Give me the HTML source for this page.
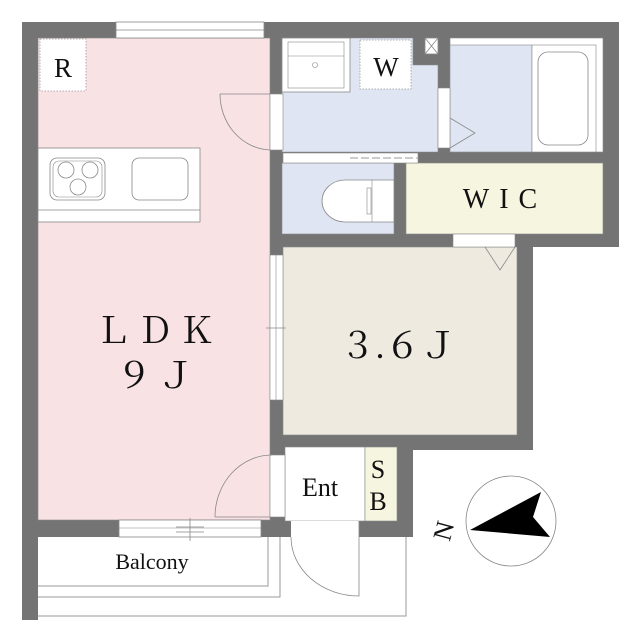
<!DOCTYPE html>
<html><head><meta charset="utf-8"><style>
html,body{margin:0;padding:0;background:#fff;}
svg{display:block;}
text{font-family:"Liberation Serif","Noto Serif CJK SC",serif;fill:#111;}
</style></head><body>
<svg width="632" height="640" viewBox="0 0 632 640" xmlns="http://www.w3.org/2000/svg">
<path d="M22 22 H619 V247 H533 V450 H413 V537 H22 Z" fill="#747474"/>
<rect x="22" y="537" width="16" height="83" fill="#747474"/>
<rect x="38" y="38" width="232" height="482" fill="#f9e2e4" stroke="#888" stroke-width="0.6"/>
<path d="M282 38 H413 V65 H438 V152 H282 Z" fill="#dfe5f2" stroke="#888" stroke-width="0.6"/>
<rect x="450" y="38" width="153" height="114" fill="#fff" stroke="#888" stroke-width="0.6"/>
<rect x="450" y="45" width="82" height="107" fill="#dfe5f2" stroke="#888" stroke-width="0.6"/>
<rect x="532" y="45" width="64" height="107" fill="#fff" stroke="#888" stroke-width="0.6"/>
<rect x="538" y="52" width="50" height="93" rx="10" fill="#fff" stroke="#888" stroke-width="0.8"/>
<rect x="282" y="163" width="112" height="71" fill="#dfe5f2" stroke="#888" stroke-width="0.6"/>
<rect x="406" y="163" width="197" height="71" fill="#f6f5df" stroke="#888" stroke-width="0.6"/>
<rect x="283" y="247" width="234" height="188" fill="#eeeae0" stroke="#888" stroke-width="0.6"/>
<rect x="285" y="447" width="80" height="74" fill="#fff" stroke="#888" stroke-width="0.6"/>
<rect x="365" y="447" width="32" height="74" fill="#f6f5df" stroke="#888" stroke-width="0.6"/>
<rect x="116" y="22" width="148" height="16" fill="#fff" stroke="#888" stroke-width="0.8"/>
<line x1="116" y1="30" x2="264" y2="30" stroke="#888" stroke-width="0.8"/>
<rect x="270" y="94" width="13" height="56" fill="#fff" stroke="#888" stroke-width="0.6"/>
<path d="M220 94 H270 M220 94 A52 56 0 0 0 270 150" fill="none" stroke="#888" stroke-width="0.8"/>
<rect x="438" y="88" width="12" height="60" fill="#fff" stroke="#888" stroke-width="0.6"/>
<path d="M450 118 L475 133 L450 148" fill="none" stroke="#888" stroke-width="0.8"/>
<rect x="425" y="38" width="13" height="16" fill="#fff" stroke="#888" stroke-width="0.8"/>
<path d="M425 38 L438 54 M438 38 L425 54" stroke="#888" stroke-width="0.8"/>
<rect x="283" y="153" width="135" height="10" fill="#fff" stroke="#888" stroke-width="0.6"/>
<line x1="350" y1="158" x2="418" y2="158" stroke="#bbb" stroke-width="1.5" stroke-dasharray="8 3"/>
<rect x="453" y="234" width="62" height="13" fill="#fff" stroke="#888" stroke-width="0.6"/>
<path d="M485 247 L500 270 L515 247" fill="none" stroke="#888" stroke-width="0.8"/>
<rect x="270" y="255" width="13" height="145" fill="#fff" stroke="#888" stroke-width="0.6"/>
<line x1="276" y1="255" x2="276" y2="400" stroke="#888" stroke-width="0.6"/>
<line x1="266" y1="328" x2="286" y2="328" stroke="#888" stroke-width="0.8"/>
<rect x="38" y="148" width="162" height="74" fill="#fff" stroke="#888" stroke-width="0.8"/>
<line x1="38" y1="210" x2="200" y2="210" stroke="#888" stroke-width="0.8"/>
<rect x="50" y="158" width="55" height="42" rx="7" fill="#fff" stroke="#888" stroke-width="0.8"/>
<rect x="53" y="161" width="49" height="36" rx="6" fill="none" stroke="#888" stroke-width="0.6"/>
<circle cx="66" cy="170" r="8" fill="none" stroke="#888" stroke-width="0.8"/>
<circle cx="90" cy="170" r="8" fill="none" stroke="#888" stroke-width="0.8"/>
<circle cx="78" cy="187" r="8" fill="none" stroke="#888" stroke-width="0.8"/>
<rect x="132" y="158" width="56" height="42" rx="7" fill="#fff" stroke="#888" stroke-width="0.8"/>
<rect x="40" y="39" width="46" height="52" fill="#fff" stroke="#999" stroke-width="0.8" stroke-dasharray="1.5 1.5"/>
<text x="63" y="77" font-size="27" text-anchor="middle">R</text>
<rect x="282" y="38" width="68" height="54" fill="#fff" stroke="#888" stroke-width="0.8"/>
<rect x="288" y="42" width="56" height="46" fill="none" stroke="#888" stroke-width="0.6"/>
<line x1="288" y1="56" x2="344" y2="56" stroke="#888" stroke-width="0.6"/>
<circle cx="315" cy="65" r="2.5" fill="none" stroke="#888" stroke-width="0.6"/>
<rect x="360" y="40" width="51" height="49" fill="#fff" stroke="#999" stroke-width="0.8" stroke-dasharray="1.5 1.5"/>
<text x="386" y="76" font-size="27" text-anchor="middle">W</text>
<path d="M394 180 H345 A23 21 0 0 0 345 222 H394 Z" fill="#fff" stroke="#888" stroke-width="0.8"/>
<line x1="372" y1="180" x2="372" y2="222" stroke="#888" stroke-width="0.6"/>
<rect x="367" y="188" width="4" height="26" fill="#fff" stroke="#888" stroke-width="0.6"/>
<rect x="119" y="520" width="142" height="17" fill="#fff" stroke="#888" stroke-width="0.8"/>
<line x1="119" y1="528" x2="261" y2="528" stroke="#888" stroke-width="0.6"/>
<path d="M176 527 H204 M176 532 H204 M190 518 V541" stroke="#888" stroke-width="0.8"/>
<rect x="270" y="455" width="15" height="62" fill="#fff" stroke="#888" stroke-width="0.6"/>
<path d="M215 517 H270 M215 517 A57 62 0 0 1 272 455" fill="none" stroke="#888" stroke-width="0.8"/>
<rect x="291" y="521" width="68" height="16" fill="#fff"/>
<path d="M291 537 A68 59 0 0 0 359 596 V521" fill="none" stroke="#888" stroke-width="0.8"/>
<path d="M38 586 H268 V537 M38 597 H280 V537 M38 616 H406 V537" fill="none" stroke="#999" stroke-width="1"/>
<text x="158" y="343" font-size="36" text-anchor="middle" letter-spacing="6">ＬＤＫ</text>
<text x="158" y="388" font-size="36" text-anchor="middle" letter-spacing="6">９Ｊ</text>
<text x="398" y="358" font-size="36" text-anchor="middle">３.６Ｊ</text>
<text x="505" y="208" font-size="28" text-anchor="middle" letter-spacing="10">WIC</text>
<text x="320" y="496" font-size="26" text-anchor="middle">Ent</text>
<text x="378" y="478" font-size="26" text-anchor="middle">S</text>
<text x="378" y="510" font-size="26" text-anchor="middle">B</text>
<text x="152" y="569" font-size="22" text-anchor="middle">Balcony</text>
<ellipse cx="511" cy="521" rx="45" ry="45" fill="none" stroke="#888" stroke-width="0.8"/>
<path d="M470 530 L541 492 L533 517 L550 537 Z" fill="#000"/>
<text x="452" y="533" font-size="26" text-anchor="middle" transform="rotate(-75 452 533)">N</text>
</svg>
</body></html>
